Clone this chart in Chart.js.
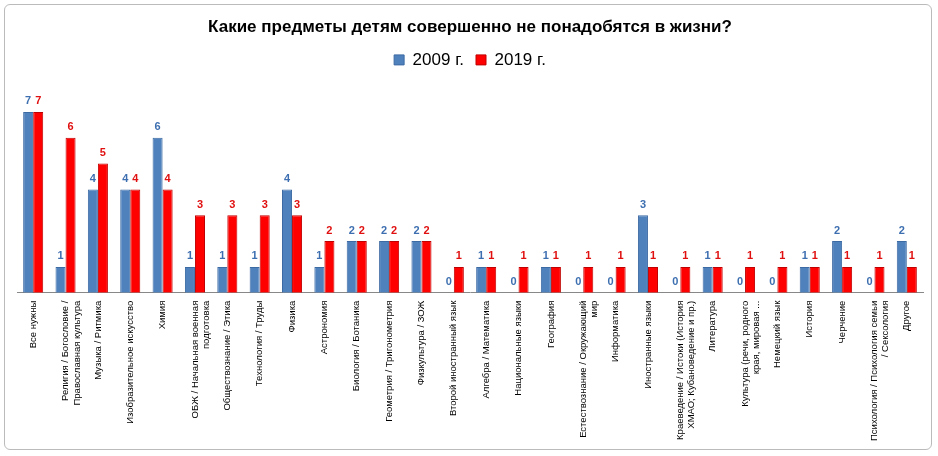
<!DOCTYPE html>
<html>
<head>
<meta charset="utf-8">
<script src="https://cdn.jsdelivr.net/npm/chart.js@4"></script>
<style>
body { margin: 0; background: #fff; }
#wrap { position: absolute; left: 4px; top: 4px; width: 926px; height: 444px; border: 1px solid #bbb; border-radius: 6px; }
</style>
</head>
<body>
<div id="wrap"><canvas id="c" width="926" height="444"></canvas></div>
<script>
const categories = [
    "Все нужны",
    ["Религия / Богословие /", "Православная культура"],
    "Музыка / Ритмика",
    "Изобразительное искусство",
    "Химия",
    ["ОБЖ / Начальная военная", "подготовка"],
    "Обществознание / Этика",
    "Технология / Труды",
    "Физика",
    "Астрономия",
    "Биология / Ботаника",
    "Геометрия / Тригонометрия",
    "Физкультура / ЗОЖ",
    "Второй иностранный язык",
    "Алгебра / Математика",
    "Национальные языки",
    "География",
    ["Естествознание / Окружающий", "мир"],
    "Информатика",
    "Иностранные языки",
    ["Краеведение / Истоки (История", "ХМАО; Кубановедение и пр.)"],
    "Литература",
    ["Культура (речи, родного", "края, мировая ..."],
    "Немецкий язык",
    "История",
    "Черчение",
    ["Психология / Психология семьи", "/ Сексология"],
    "Другое"
];
const values2009 = [7, 1, 4, 4, 6, 1, 1, 1, 4, 1, 2, 2, 2, 0, 1, 0, 1, 0, 0, 3, 0, 1, 0, 0, 1, 2, 0, 2];
const values2019 = [7, 6, 5, 4, 4, 3, 3, 3, 3, 2, 2, 2, 2, 1, 1, 1, 1, 1, 1, 1, 1, 1, 1, 1, 1, 1, 1, 1];

const valueLabels = {
    id: 'valueLabels',
    afterDatasetsDraw(chart) {
        const ctx = chart.ctx;
        ctx.save();
        ctx.font = 'bold 11px "Liberation Sans", Arial';
        ctx.textAlign = 'center';
        ctx.textBaseline = 'bottom';
        chart.data.datasets.forEach((ds, i) => {
            ctx.fillStyle = i === 0 ? '#3d6fb0' : '#e01010';
            chart.getDatasetMeta(i).data.forEach((bar, j) => {
                ctx.fillText(ds.data[j], bar.x, bar.y - 5);
            });
        });
        ctx.restore();
    }
};

new Chart(document.getElementById("c"), {
    type: 'bar',
    data: {
        labels: categories,
        datasets: [
            { label: '2009 г.', data: values2009, backgroundColor: '#4f81bd', borderColor: '#3c6aa3', borderWidth: 1 },
            { label: '2019 г.', data: values2019, backgroundColor: '#ff0000', borderColor: '#c00000', borderWidth: 1 }
        ]
    },
    options: {
        responsive: false,
        animation: false,
        layout: { padding: { left: 12, right: 8, top: 4, bottom: 8 } },
        datasets: { bar: { categoryPercentage: 0.62, barPercentage: 1 } },
        plugins: {
            title: {
                display: true,
                text: 'Какие предметы детям совершенно не понадобятся в жизни?',
                font: { family: '"Liberation Sans", Arial', size: 17, weight: 'bold' },
                color: '#000',
                padding: { top: 8, bottom: 2 }
            },
            legend: {
                labels: {
                    font: { family: '"Liberation Sans", Arial', size: 17 },
                    color: '#000',
                    boxWidth: 10, boxHeight: 10, padding: 12
                }
            },
            tooltip: { enabled: false }
        },
        scales: {
            y: { display: false, min: 0, max: 8.3 },
            x: {
                grid: { display: false },
                border: { color: '#888' },
                ticks: {
                    autoSkip: false, minRotation: 90, maxRotation: 90, padding: 0,
                    font: { family: '"Liberation Sans", Arial', size: 9.5 },
                    color: '#000'
                }
            }
        }
    },
    plugins: [valueLabels]
});
</script>
</body>
</html>
